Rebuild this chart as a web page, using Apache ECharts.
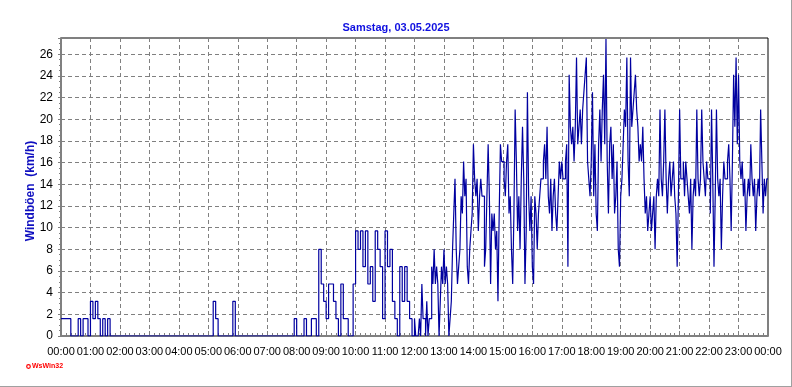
<!DOCTYPE html>
<html>
<head>
<meta charset="utf-8">
<script src="https://cdn.jsdelivr.net/npm/echarts@6/dist/echarts.min.js"></script>
<style>
html,body{margin:0;padding:0;background:#fff;}
#chart{width:792px;height:387px;}
</style>
</head>
<body>
<div id="chart"></div>
<script>
// Wind gusts (km/h)
// 00:00-12:00 in 5-minute steps
const gusts00_05 = [
  1.6,1.6,1.6,1.6,0,0,0,1.6,0,1.6,1.6,0,
  3.2,1.6,3.2,1.6,0,1.6,0,1.6,0,0,0,0,
  0,0,0,0,0,0,0,0,0,0,0,0,
  0,0,0,0,0,0,0,0,0,0,0,0,
  0,0,0,0,0,0,0,0,0,0,0,0,
  0,0,3.2,1.6,0,0,0,0,0,0,3.2,0
];
const gusts06_11 = [
  0,0,0,0,0,0,0,0,0,0,0,0,
  0,0,0,0,0,0,0,0,0,0,0,1.6,
  0,0,0,1.6,0,0,1.6,1.6,0,8.0,4.8,3.2,
  1.6,4.8,4.8,3.2,1.6,0,4.8,1.6,1.6,0,0,4.8,
  9.7,8.0,9.7,6.4,9.7,4.8,6.4,3.2,9.7,8.0,6.4,1.6,
  9.7,6.4,8.0,3.2,1.6,0,6.4,3.2,6.4,3.2,1.6,0
];
// 12:00-24:00 in 2.5-minute steps
const gusts12_17 = [
  1.6,0,0,0,1.6,0,4.8,1.6,1.6,0,3.2,0,1.6,1.6,6.4,4.8,8.0,4.8,6.4,4.8,0,3.2,6.4,4.8,
  8.0,4.8,6.4,4.8,0,1.6,3.2,8.0,11.3,14.5,8.0,4.8,6.4,8.0,12.9,11.3,16.1,12.9,14.5,6.4,4.8,8.0,9.7,11.3,
  17.7,14.5,12.9,14.5,9.7,12.9,14.5,12.9,12.9,6.4,8.0,12.9,17.7,12.9,4.8,11.3,9.7,11.3,8.0,9.7,3.2,11.3,17.7,16.1,
  16.1,14.5,12.9,16.1,17.7,11.3,12.9,8.0,4.8,11.3,20.9,16.1,9.7,12.9,8.0,14.5,19.3,14.5,4.8,9.7,22.5,12.9,9.7,12.9,
  6.4,4.8,12.9,11.3,8.0,11.3,12.9,14.5,14.5,16.1,17.7,14.5,19.3,12.9,11.3,14.5,9.7,12.9,14.5,11.3,9.7,12.9,16.1,14.5,
  16.1,14.5,14.5,16.1,17.7,6.4,24.1,19.3,17.7,19.3,16.1,19.3,25.7,17.7,19.3,20.9,17.7,20.9,22.5,24.1,25.7,16.1,14.5,12.9
];
const gusts18_23 = [
  16.1,22.5,12.9,17.7,11.3,9.7,17.7,20.9,16.1,20.9,24.1,17.7,27.4,16.1,11.3,17.7,19.3,14.5,17.7,11.3,12.9,16.1,8.0,6.4,
  12.9,14.5,17.7,20.9,19.3,25.7,16.1,12.9,25.7,19.3,20.9,22.5,24.1,20.9,19.3,16.1,17.7,16.1,19.3,14.5,11.3,12.9,9.7,11.3,
  12.9,9.7,11.3,12.9,8.0,12.9,14.5,12.9,20.9,14.5,12.9,16.1,20.9,14.5,11.3,14.5,16.1,12.9,14.5,16.1,12.9,11.3,6.4,12.9,
  20.9,14.5,14.5,16.1,12.9,16.1,14.5,12.9,11.3,14.5,8.0,12.9,14.5,12.9,20.9,14.5,12.9,14.5,20.9,16.1,14.5,12.9,16.1,14.5,
  14.5,11.3,20.9,14.5,6.4,12.9,20.9,14.5,12.9,14.5,8.0,12.9,16.1,14.5,14.5,16.1,17.7,14.5,9.7,16.1,24.1,19.3,25.7,17.7,
  24.1,16.1,14.5,16.1,12.9,14.5,9.7,12.9,14.5,12.9,17.7,14.5,12.9,14.5,9.7,12.9,14.5,12.9,20.9,16.1,11.3,14.5,12.9,14.5
];
const hourLabels = ['00:00','01:00','02:00','03:00','04:00','05:00','06:00','07:00','08:00','09:00','10:00','11:00',
  '12:00','13:00','14:00','15:00','16:00','17:00','18:00','19:00','20:00','21:00','22:00','23:00','00:00'];
const stepFirstHalf = 5;     // minutes
const stepSecondHalf = 2.5;  // minutes
const titleText = 'Samstag, 03.05.2025';
const yName = 'Windböen  (km/h)';

const firstHalf = [].concat(gusts00_05, gusts06_11);
const secondHalf = [].concat(gusts12_17, gusts18_23);
const seriesData = [];
firstHalf.forEach((v, i) => seriesData.push([i * stepFirstHalf, v]));
const t0 = firstHalf.length * stepFirstHalf;
secondHalf.forEach((v, i) => seriesData.push([t0 + i * stepSecondHalf, v]));
seriesData.push([t0 + secondHalf.length * stepSecondHalf, secondHalf[secondHalf.length - 1]]);

const chart = echarts.init(document.getElementById('chart'), null, {renderer: 'canvas'});
const font = 'Arial, "Liberation Sans", sans-serif';
chart.setOption({
  animation: false,
  backgroundColor: '#ffffff',
  title: {
    text: titleText, left: 'center', top: 17,
    textStyle: {color: '#1010e0', fontSize: 11, fontWeight: 'bold', fontFamily: font}
  },
  grid: {left: 61, right: 24, top: 38, bottom: 51, show: true, borderColor: '#000', borderWidth: 1, backgroundColor: '#fff'},
  xAxis: {
    type: 'value', min: 0, max: 1440, interval: 60,
    axisLine: {show: true, lineStyle: {color: '#808080', width: 2}},
    axisTick: {show: true, inside: true, length: 5, lineStyle: {color: '#808080'}},
    minorTick: {show: true, splitNumber: 6, length: 3, lineStyle: {color: '#808080'}},
    axisLabel: {color: '#000', fontSize: 11, fontFamily: font, margin: 10,
      showMinLabel: true, showMaxLabel: true, hideOverlap: false, interval: 0,
      formatter: v => hourLabels[Math.round(v / 60)]},
    splitLine: {show: true, lineStyle: {color: '#808080', type: [4, 3], width: 1}}
  },
  yAxis: {
    type: 'value', min: 0, max: 27.5, interval: 2,
    axisLine: {show: true, lineStyle: {color: '#808080', width: 2}},
    axisTick: {show: true, length: 3, lineStyle: {color: '#808080'}},
    minorTick: {show: true, splitNumber: 4, length: 2, lineStyle: {color: '#808080'}},
    axisLabel: {color: '#000', fontSize: 12, fontFamily: font, margin: 8, showMaxLabel: false,
      formatter: v => (v % 2 === 0 ? String(v) : '')},
    splitLine: {show: true, lineStyle: {color: '#808080', type: [4, 3], width: 1}}
  },
  series: [{
    type: 'line', step: 'end', data: seriesData, symbol: 'none',
    lineStyle: {color: '#0000a0', width: 1.2}
  }],
  graphic: [
    {type: 'text', x: 31, y: 191, rotation: Math.PI / 2,
      style: {text: yName, fill: '#1010c0', font: 'bold 12px Arial, "Liberation Sans", sans-serif', align: 'center', verticalAlign: 'middle'}},
    {type: 'line', shape: {x1: 0, y1: 386.5, x2: 792, y2: 386.5}, style: {stroke: '#a0a0a0', lineWidth: 1}},
    {type: 'line', shape: {x1: 791.5, y1: 0, x2: 791.5, y2: 387}, style: {stroke: '#a0a0a0', lineWidth: 1}},
    {type: 'circle', shape: {cx: 28.5, cy: 366.5, r: 1.8}, style: {fill: 'none', stroke: '#ff0000', lineWidth: 1.2}},
    {type: 'text', x: 32, y: 363, style: {text: 'WsWin32', fill: '#ff0000', font: 'bold 7px Arial, "Liberation Sans", sans-serif'}}
  ]
});
</script>
</body>
</html>
